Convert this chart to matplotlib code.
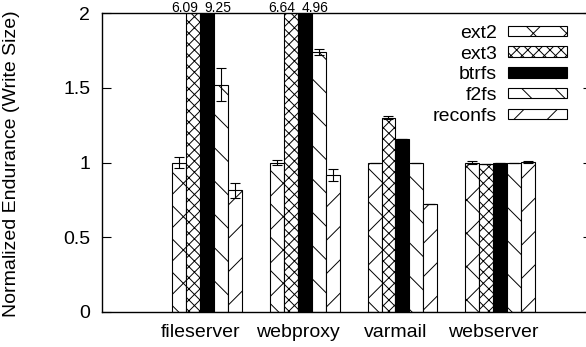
import matplotlib
matplotlib.use("Agg")
import matplotlib.pyplot as plt
import numpy as np

plt.rcParams['font.family'] = ['Liberation Sans', 'DejaVu Sans']
plt.rcParams['hatch.linewidth'] = 0.7

##  data
workloads = ["fileserver", "webproxy", "varmail", "webserver"]
systems = ["ext2", "ext3", "btrfs", "f2fs", "reconfs"]

ext2 = [1.0, 1.0, 1.0, 1.0]
ext3 = [6.09, 6.64, 1.30, 0.99]
btrfs = [9.25, 4.96, 1.157, 1.0]
f2fs = [1.52, 1.74, 0.995, 1.0]
reconfs = [0.815, 0.915, 0.725, 1.003]

ext2_err = [0.035, 0.015, 0.0, 0.012]
ext3_err = [0.0, 0.0, 0.012, 0.0]
btrfs_err = [0.0, 0.0, 0.0, 0.0]
f2fs_err = [0.11, 0.02, 0.0, 0.0]
reconfs_err = [0.05, 0.04, 0.0, 0.008]

yticks = [0, 0.5, 1, 1.5, 2]
ytick_labels = ["0", "0.5", "1", "1.5", "2"]

series = [ext2, ext3, btrfs, f2fs, reconfs]
errors = [ext2_err, ext3_err, btrfs_err, f2fs_err, reconfs_err]
hatches = ["x", "xxx", None, "\\", "/"]
faces = ["white", "white", "black", "white", "white"]

W, H = 586, 347
fig = plt.figure(figsize=(W / 100, H / 100), dpi=100)
ax = fig.add_axes([102 / W, (H - 312) / H, (592 - 102) / W, (312 - 13) / H])

x = np.arange(len(workloads))
bw = 1.0 / 7
for k, (vals, errs) in enumerate(zip(series, errors)):
    pos = x + (k - 2) * bw
    ax.bar(pos, vals, bw, color=faces[k], edgecolor="black", hatch=hatches[k],
           linewidth=0.8, label=systems[k], zorder=2)
    ax.errorbar(pos, vals, yerr=errs, fmt="none", ecolor="black",
                elinewidth=0.8, capsize=3.5, capthick=0.8, zorder=3)

# labels for the bars that go off the top
for i in range(len(workloads)):
    if ext3[i] > 2:
        ax.text(x[i] - bw - 0.09, 2.035, "%.2f" % ext3[i], ha="center", va="center",
                fontsize=10, clip_on=False)
    if btrfs[i] > 2:
        ax.text(x[i] + 0.11, 2.035, "%.2f" % btrfs[i], ha="center", va="center",
                fontsize=10, clip_on=False)

ax.set_xlim(-1.075, 3.94)
ax.set_ylim(0, 2)
# gnuplot puts the workload names a little left of the cluster centre
ax.set_xticks(x - 0.07)
ax.set_xticklabels(workloads, fontsize=14)
ax.set_yticks(yticks)
ax.set_yticklabels(ytick_labels, fontsize=14)
ax.tick_params(axis="x", length=0, pad=8.5)
ax.tick_params(axis="y", direction="in", length=6.5, width=0.8, right=True, pad=8.5)
for s in ax.spines.values():
    s.set_linewidth(1.0)

ax.set_ylabel("Normalized Endurance (Write Size)", fontsize=14)
ax.yaxis.set_label_coords(-0.167, 0.495)

ax.legend(loc="upper right", bbox_to_anchor=(567 / W, (H - 25) / H),
          bbox_transform=fig.transFigure, frameon=False, markerfirst=False,
          fontsize=14, handlelength=3.04, handleheight=0.46, handletextpad=0.57,
          labelspacing=0.19, borderpad=0, borderaxespad=0)

fig.savefig("out.png", dpi=100)
